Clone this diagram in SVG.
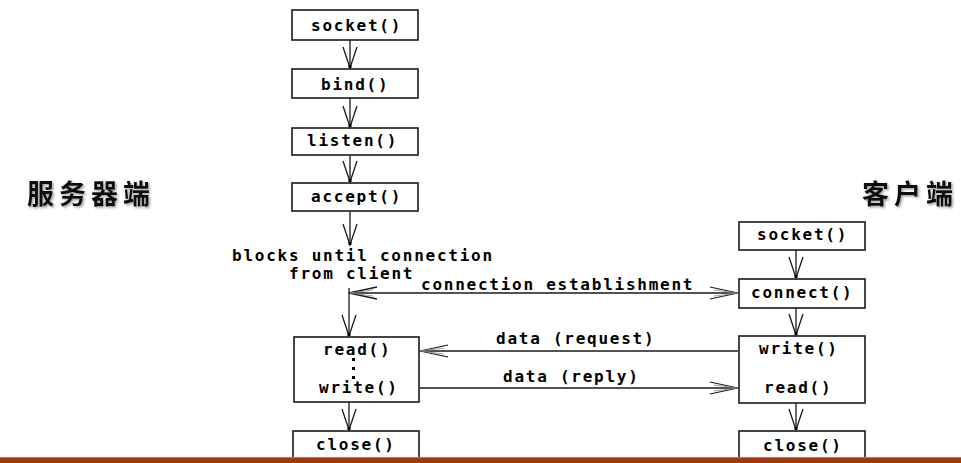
<svg xmlns="http://www.w3.org/2000/svg" width="961" height="463" viewBox="0 0 961 463">
<style>
.box{fill:#fff;stroke:#1a1a1a;stroke-width:1.6}
.t{font-family:"DejaVu Sans Mono","Liberation Mono",monospace;font-weight:bold;font-size:16px;letter-spacing:1.75px;fill:#000}
.cn{font-family:"Noto Sans CJK SC","Noto Sans CJK JP",sans-serif;font-weight:bold;font-size:27px;letter-spacing:5px;fill:#111}
.ln{fill:none;stroke:#1a1a1a;stroke-width:1.3}
</style>
<defs>
<marker id="av" markerUnits="userSpaceOnUse" markerWidth="24" markerHeight="18" viewBox="-22 -9 24 18" refX="0" refY="0" orient="auto" overflow="visible">
<path d="M-21,-7 L0,0 L-21,7" fill="none" stroke="#1a1a1a" stroke-width="1.3"/>
<rect x="-3" y="-1.5" width="3" height="3" fill="#000"/>
</marker>
<marker id="ah" markerUnits="userSpaceOnUse" markerWidth="32" markerHeight="16" viewBox="-30 -8 32 16" refX="0" refY="0" orient="auto" overflow="visible">
<path d="M-28,-6 L0,0 L-28,6" fill="none" stroke="#1a1a1a" stroke-width="1.2"/>
<path d="M-24,-3 L0,0 L-24,3" fill="none" stroke="#888" stroke-width="0.8"/>
</marker>
<filter id="sh" x="-10%" y="-20%" width="130%" height="150%">
<feDropShadow dx="1.5" dy="1.5" stdDeviation="1" flood-color="#777" flood-opacity="0.7"/>
</filter>
</defs>

<g id="label-server"><text class="cn" x="27" y="204" filter="url(#sh)">服务器端</text></g>
<g id="label-client"><text class="cn" x="862" y="204" filter="url(#sh)">客户端</text></g>

<g id="s-socket"><rect class="box" x="292" y="10" width="126" height="30"/><text class="t" x="311" y="31">socket()</text></g>
<g id="s-bind"><rect class="box" x="292" y="69" width="126" height="29"/><text class="t" x="321" y="90">bind()</text></g>
<g id="s-listen"><rect class="box" x="292" y="128" width="126" height="27"/><text class="t" x="307" y="146">listen()</text></g>
<g id="s-accept"><rect class="box" x="292" y="183" width="126" height="28"/><text class="t" x="311" y="202">accept()</text></g>
<g id="s-block-note"><text class="t" x="232" y="261">blocks until connection</text><text class="t" x="289" y="279">from client</text></g>
<g id="s-readwrite"><rect class="box" x="294" y="337" width="125" height="65"/>
<text class="t" x="323" y="355">read()</text>
<rect x="352" y="358" width="3" height="3" fill="#000"/>
<rect x="352" y="367" width="3" height="3" fill="#000"/>
<rect x="352" y="376" width="3" height="3" fill="#000"/>
<text class="t" x="319" y="393">write()</text></g>
<g id="s-close"><rect class="box" x="293" y="431" width="126" height="40"/><text class="t" x="316" y="450">close()</text></g>

<g id="c-socket"><rect class="box" x="739" y="222" width="126" height="28"/><text class="t" x="757" y="240">socket()</text></g>
<g id="c-connect"><rect class="box" x="739" y="279" width="126" height="29"/><text class="t" x="751" y="298">connect()</text></g>
<g id="c-writeread"><rect class="box" x="739" y="336" width="126" height="67"/><text class="t" x="759" y="354">write()</text><text class="t" x="764" y="393">read()</text></g>
<g id="c-close"><rect class="box" x="739" y="431" width="126" height="40"/><text class="t" x="763" y="451">close()</text></g>

<g id="connectors">
<line class="ln" x1="350" y1="40" x2="350" y2="68" marker-end="url(#av)"/>
<line class="ln" x1="350" y1="98" x2="350" y2="127" marker-end="url(#av)"/>
<line class="ln" x1="350" y1="155" x2="350" y2="182" marker-end="url(#av)"/>
<line class="ln" x1="350" y1="211" x2="350" y2="245" marker-end="url(#av)"/>
<line class="ln" x1="349" y1="288" x2="349" y2="336" marker-end="url(#av)"/>
<line class="ln" x1="349" y1="402" x2="349" y2="430" marker-end="url(#av)"/>
<line class="ln" x1="796" y1="250" x2="796" y2="278" marker-end="url(#av)"/>
<line class="ln" x1="796" y1="308" x2="796" y2="335" marker-end="url(#av)"/>
<line class="ln" x1="796" y1="403" x2="796" y2="430" marker-end="url(#av)"/>
<line class="ln" x1="349" y1="293" x2="738" y2="293" marker-end="url(#ah)"/>
<path class="ln" d="M377,287 L349,293 L377,299"/>
<path d="M373,290 L350,293 L373,296" fill="none" stroke="#888" stroke-width="0.8"/>
<line class="ln" x1="738" y1="351" x2="420" y2="351" marker-end="url(#ah)"/>
<line class="ln" x1="420" y1="388" x2="738" y2="388" marker-end="url(#ah)"/>
<text class="t" x="421" y="290">connection establishment</text>
<text class="t" x="496" y="344">data (request)</text>
<text class="t" x="503" y="382">data (reply)</text>
</g>

<rect x="0" y="457" width="961" height="6" fill="#A3390B"/>
<rect x="0" y="457" width="961" height="1" fill="#C8704A"/>
</svg>
